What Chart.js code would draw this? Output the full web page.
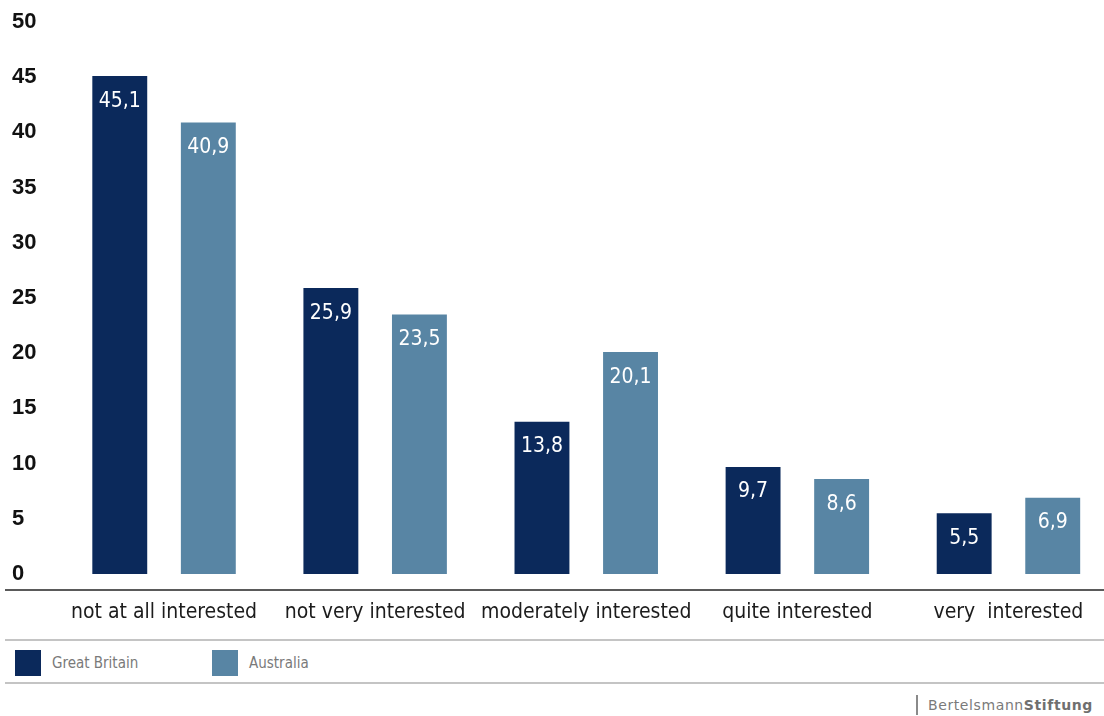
<!DOCTYPE html>
<html>
<head>
<meta charset="utf-8">
<script src="https://cdn.jsdelivr.net/npm/chart.js@4.4.1/dist/chart.umd.min.js"></script>
<style>
    html, body { margin: 0; padding: 0; background: #fff; overflow: hidden; }
    body { width: 1104px; height: 716px; position: relative; }
    #wrap { position: absolute; left: 0; top: 0; width: 1120px; height: 640px; }
    .rule { position: absolute; left: 5px; width: 1099px; height: 2px; background: #c4c4c4; }
    .legend { position: absolute; top: 650px; font-family: "DejaVu Sans Condensed", sans-serif; font-size: 15px; color: #7a7a7a; }
    .legend span.box { position: absolute; top: 0; width: 26px; height: 26px; }
    .legend span.txt { position: absolute; top: 4px; white-space: nowrap; }
    .logo { position: absolute; top: 695px; left: 916px; height: 20px; border-left: 2px solid #8a8a8a; padding-left: 10px;
            font-family: "DejaVu Sans", sans-serif; font-size: 14px; color: #7a7a7a; letter-spacing: 0.6px; line-height: 20px; white-space: nowrap; }
    .logo b { color: #6f6f6f; }
</style>
</head>
<body>
<div id="wrap"><canvas id="chart"></canvas></div>
<div class="rule" style="top:639px"></div>
<div class="rule" style="top:682px"></div>
<div class="legend" id="legend"></div>
<div class="logo">Bertelsmann<b>Stiftung</b></div>

<script>
// Interest categories and survey shares (%)
const categories = ['not at all interested', 'not very interested', 'moderately interested', 'quite interested', 'very  interested'];
const greatBritain = [45.1, 25.9, 13.8, 9.7, 5.5];
const australia = [40.9, 23.5, 20.1, 8.6, 6.9];
const yTicks = [0, 5, 10, 15, 20, 25, 30, 35, 40, 45, 50];

const navy = 'rgb(11, 41, 91)';
const steel = 'rgb(88, 133, 164)';
const narrow = '"DejaVu Sans Condensed", sans-serif';

// HTML legend
const legendEl = document.getElementById('legend');
[['Great Britain', navy, 15], ['Australia', steel, 212]].forEach(function(item) {
    legendEl.insertAdjacentHTML('beforeend',
        '<span class="box" style="left:' + item[2] + 'px;background:' + item[1] + '"></span>' +
        '<span class="txt" style="left:' + (item[2] + 37) + 'px">' + item[0] + '</span>');
});

// Value labels inside the top of each bar
const barLabels = {
    id: 'barLabels',
    afterDatasetsDraw(chart) {
        const ctx = chart.ctx;
        ctx.save();
        ctx.fillStyle = '#fff';
        ctx.font = '21px ' + narrow;
        ctx.textAlign = 'center';
        ctx.textBaseline = 'middle';
        chart.data.datasets.forEach(function(ds, i) {
            chart.getDatasetMeta(i).data.forEach(function(bar, j) {
                ctx.fillText(ds.data[j].toFixed(1).replace('.', ','), bar.x, bar.y + 25);
            });
        });
        ctx.restore();
    }
};

// Dark baseline under the bars
const baseline = {
    id: 'baseline',
    afterDraw(chart) {
        const ctx = chart.ctx;
        ctx.save();
        ctx.fillStyle = '#5a5a5a';
        ctx.fillRect(5, chart.chartArea.bottom + 15, 1099, 2);
        ctx.restore();
    }
};

new Chart(document.getElementById('chart'), {
    type: 'bar',
    data: {
        labels: categories,
        datasets: [{
            label: 'Great Britain',
            data: greatBritain,
            backgroundColor: navy,
            categoryPercentage: 0.839,
            barPercentage: 0.62
        }, {
            label: 'Australia',
            data: australia,
            backgroundColor: steel,
            categoryPercentage: 0.839,
            barPercentage: 0.62
        }]
    },
    options: {
        responsive: true,
        maintainAspectRatio: false,
        animation: false,
        layout: { padding: { left: 12, right: 6, top: 22, bottom: 6 } },
        plugins: {
            legend: { display: false },
            tooltip: { enabled: false }
        },
        scales: {
            x: {
                grid: { display: false, drawTicks: false },
                border: { display: false },
                ticks: {
                    color: '#1c1c1c',
                    padding: 26,
                    maxRotation: 0,
                    minRotation: 0,
                    autoSkip: false,
                    font: { family: narrow, size: 21 }
                },
                afterFit: function(scale) {
                    scale.height = 60;
                    scale.paddingLeft = 0;
                    scale.paddingRight = 0;
                }
            },
            y: {
                min: 0,
                max: 50,
                grid: { display: false, drawTicks: false },
                border: { display: false },
                afterBuildTicks: function(scale) {
                    scale.ticks = yTicks.map(function(v) { return { value: v }; });
                },
                ticks: {
                    color: '#111',
                    crossAlign: 'far',
                    padding: 0,
                    font: { family: '"Liberation Sans", sans-serif', size: 22, weight: 'bold' }
                },
                afterFit: function(scale) { scale.width = 46.5; }
            }
        }
    },
    plugins: [barLabels, baseline]
});
</script>
</body>
</html>
